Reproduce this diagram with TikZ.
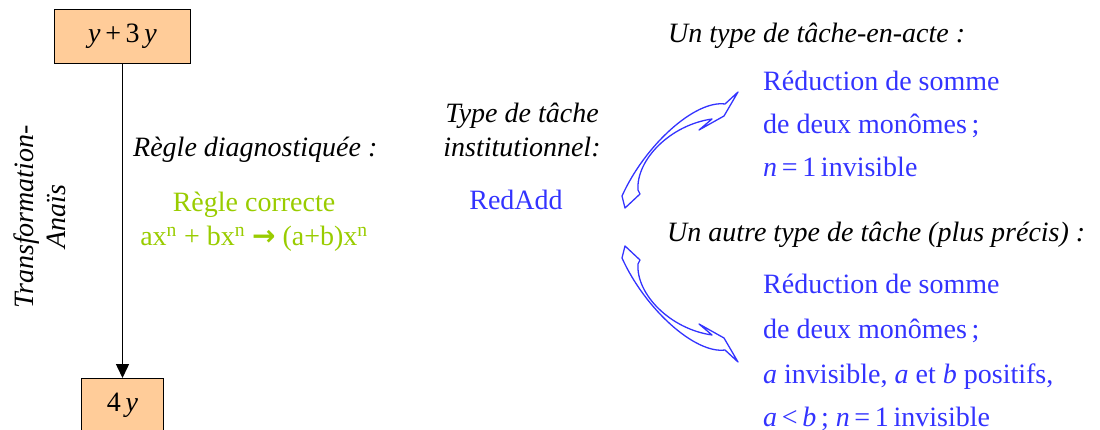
\documentclass[tikz,border=0pt]{standalone}
\usepackage{fontspec}
\setmainfont{Liberation Serif}
\newfontfamily\timesfont{Liberation Serif}
\newfontfamily\dejavu{DejaVu Sans}
\usetikzlibrary{arrows.meta}
\definecolor{myblue}{RGB}{51,51,255}
\definecolor{mygreen}{RGB}{153,204,0}
\definecolor{peach}{RGB}{255,204,153}
\tikzset{
  exprbox/.style={draw=black, line width=1pt, fill=peach, inner sep=0pt},
  txt/.style={inner sep=0pt, font=\timesfont\fontsize{28}{42}\selectfont},
  itxt/.style={inner sep=0pt, font=\timesfont\itshape\fontsize{28}{42}\selectfont},
  bluetxt/.style={txt, text=myblue},
  greentxt/.style={txt, text=mygreen},
  curvearrow/.style={draw=myblue, line width=1.3pt, line join=round}
}
\begin{document}
\begin{tikzpicture}[x=1pt,y=-1pt]
\useasboundingbox (0,0) rectangle (1100,430);
\clip (0,0) rectangle (1100,430);

% expression boxes
\node[exprbox, txt, minimum width=136pt, minimum height=54pt] (top) at (122.5,36.3)
  {\textit{y}\,+\,3\,\textit{y}};
\node[exprbox, txt, anchor=north, minimum width=82pt, text height=29pt, text depth=25pt, inner ysep=4pt] (bot) at (122.5,378)
  {4\,\textit{y}};
\draw[line width=1.5pt, -{Triangle[length=14pt,width=13pt]}] (top.south) -- (bot.north);

% rotated label
\node[rotate=90, align=center, inner sep=0pt, font=\timesfont\itshape\fontsize{28}{32}\selectfont] (rot) at (40,217)
  {Transformation-\\Anaïs};

% diagnosed rule
\node[itxt, anchor=base west] (diag) at (133,157) {Règle diagnostiquée :};
\node[greentxt, anchor=base] (corr1) at (254,212) {Règle correcte};
\node[greentxt, anchor=base] (corr2) at (254,246)
  {ax\textsuperscript{n} + bx\textsuperscript{n} {\dejavu\bfseries →} (a+b)x\textsuperscript{n}};

% institutional task type
\node[itxt, anchor=base] (inst1) at (522,123) {Type de tâche};
\node[itxt, anchor=base] (inst2) at (522,157) {institutionnel:};
\node[bluetxt, anchor=base] (redadd) at (516,210) {RedAdd};

% first task type
\node[itxt, anchor=base west] (h1) at (668,43) {Un type de tâche-en-acte :};
\node[bluetxt, anchor=base west] (a1) at (763,91) {Réduction de somme};
\node[bluetxt, anchor=base west] (a2) at (763,134) {de deux monômes\,;};
\node[bluetxt, anchor=base west] (a3) at (763,177) {\textit{n}\,=\,1\,invisible};

% second task type
\node[itxt, anchor=base west] (h2) at (667,242) {Un autre type de tâche (plus précis) :};
\node[bluetxt, anchor=base west] (b1) at (763,294) {Réduction de somme};
\node[bluetxt, anchor=base west] (b2) at (763,338) {de deux monômes\,;};
\node[bluetxt, anchor=base west] (b3) at (763,383) {\textit{a} invisible, \textit{a} et \textit{b} positifs,};
\node[bluetxt, anchor=base west] (b4) at (763,426) {\textit{a}\,<\,\textit{b}\,; \textit{n}\,=\,1\,invisible};

% curved outline arrows
\draw[curvearrow] (738,92) -- (725,104) .. controls (695,100) and (645,145) .. (622,196)
  -- (625,208) -- (640,194) -- (638,190) .. controls (636,160) and (670,125) .. (712,119)
  -- (699,130) -- (724,116) -- cycle;
\draw[curvearrow] (738,362) -- (725,350) .. controls (695,354) and (645,309) .. (622,258)
  -- (625,246) -- (640,260) -- (638,264) .. controls (636,294) and (670,329) .. (712,335)
  -- (699,324) -- (724,338) -- cycle;
\end{tikzpicture}
\end{document}
